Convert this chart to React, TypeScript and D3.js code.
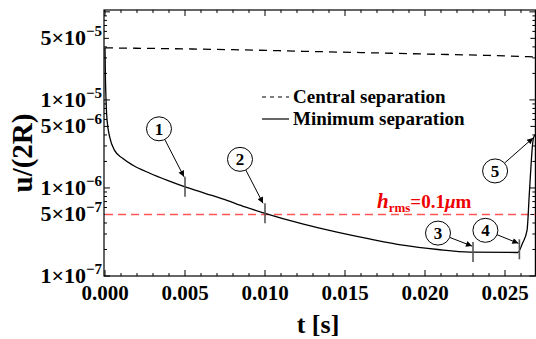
import React, { useEffect, useRef } from "react";
import * as d3 from "d3";

// central separation (dashed)
const centralT = [0, 0.004, 0.008, 0.012, 0.016, 0.02, 0.024, 0.0269];
const centralU = [3.9e-5, 3.82e-5, 3.72e-5, 3.58e-5, 3.45e-5, 3.32e-5, 3.2e-5, 3.08e-5];

// minimum separation (solid)
const minT = [
  0, 0.00003, 0.00006, 0.00013, 0.0003, 0.0006, 0.0011, 0.00175, 0.0028, 0.0039,
  0.005, 0.00625, 0.0075, 0.00875, 0.01, 0.0124, 0.0145, 0.0166, 0.0186, 0.0208,
  0.0228, 0.0258, 0.0261, 0.02638, 0.02644, 0.0265, 0.0266, 0.0267, 0.02678, 0.02688,
];
const minU = [
  3.9e-5, 1.66e-5, 1.06e-5, 5.85e-6, 3.75e-6, 2.67e-6, 2.17e-6, 1.81e-6, 1.47e-6, 1.22e-6,
  1.03e-6, 8.7e-7, 7.35e-7, 6.1e-7, 5.15e-7, 3.88e-7, 3.15e-7, 2.62e-7, 2.24e-7, 2.0e-7,
  1.87e-7, 1.85e-7, 2.37e-7, 3.32e-7, 4.6e-7, 7.5e-7, 1.5e-6, 2.8e-6, 3.7e-6, 4.0e-6,
];

const xTicks = [0, 0.005, 0.01, 0.015, 0.02, 0.025];
const yLabelTicks = [1e-7, 5e-7, 1e-6, 5e-6, 1e-5, 5e-5];
const legendLabels = ["Central separation", "Minimum separation"];
const hrms = 5e-7;

// numbered markers: time of the point, whether a tick is drawn
const markerLabels = ["1", "2", "3", "4", "5"];
const markerT = [0.005, 0.01, 0.023, 0.0259, 0.02688];
const markerTick = [true, true, true, true, false];
// circle offset and arrow tip offset (px) from the marked point
const markerCircle = [[-26, -58], [-25, -54], [-35, -19], [-34, -19], [-40, 36]];
const markerTip = [[-1, -10], [-2, -10], [-1, -6], [-1, -6], [-2, 3]];

const W = 536;
const H = 339;
const left = 105, right = 535.4, top = 10, bottom = 276;
const serif = "Liberation Serif, DejaVu Serif, serif";

export default function App() {
  const ref = useRef<SVGSVGElement>(null);

  useEffect(() => {
    const svg = d3.select(ref.current);
    svg.selectAll("*").remove();

    const x = d3.scaleLinear().domain([0, 0.0269]).range([left, right]);
    const y = d3.scaleLog().domain([1e-7, 1.05e-4]).range([bottom, top]);

    const defs = svg.append("defs");
    defs.append("clipPath").attr("id", "plot")
      .append("rect").attr("x", left - 1).attr("y", top).attr("width", right - left + 1).attr("height", bottom - top);
    defs.append("marker").attr("id", "arr").attr("viewBox", "0 0 10 10")
      .attr("refX", 10).attr("refY", 5).attr("markerWidth", 8).attr("markerHeight", 6)
      .attr("markerUnits", "userSpaceOnUse").attr("orient", "auto")
      .append("path").attr("d", "M0,0 L10,5 L0,10 Z").attr("fill", "#000");

    // frame
    svg.append("rect").attr("x", left - 1).attr("y", top).attr("width", right - left + 1).attr("height", bottom - top)
      .attr("fill", "none").attr("stroke", "#000").attr("stroke-width", 1.2);

    const tk = svg.append("g").attr("stroke", "#000").attr("stroke-width", 1);
    // x ticks (bottom + top)
    d3.range(0, 27).map((i) => i * 0.001).forEach((t) => {
      const major = Math.abs(t / 0.005 - Math.round(t / 0.005)) < 1e-6;
      const len = major ? 6 : 3;
      tk.append("line").attr("x1", x(t)).attr("x2", x(t)).attr("y1", bottom).attr("y2", bottom - len);
      tk.append("line").attr("x1", x(t)).attr("x2", x(t)).attr("y1", top).attr("y2", top + len);
    });
    // y ticks (left + right)
    const yt: number[] = [];
    [1e-7, 1e-6, 1e-5].forEach((d) => d3.range(1, 10).forEach((m) => yt.push(d * m)));
    yt.push(1e-4);
    yt.forEach((v) => {
      const m = Math.round(v / Math.pow(10, Math.floor(Math.log10(v) + 1e-9)));
      const len = m === 1 ? 6 : m === 5 ? 5 : 3;
      tk.append("line").attr("x1", left - 1).attr("x2", left - 1 + len).attr("y1", y(v)).attr("y2", y(v));
      tk.append("line").attr("x1", right).attr("x2", right - len).attr("y1", y(v)).attr("y2", y(v));
    });

    // x labels
    svg.append("g").selectAll("text").data(xTicks).enter().append("text")
      .attr("x", (d) => x(d)).attr("y", 300).attr("text-anchor", "middle")
      .style("font-family", serif).attr("font-weight", "bold").attr("font-size", 21)
      .text((d) => d.toFixed(3));

    // y labels
    const yl = svg.append("g").selectAll("text").data(yLabelTicks).enter().append("text")
      .attr("x", 102).attr("y", (d) => y(d) + 7).attr("text-anchor", "end")
      .style("font-family", serif).attr("font-weight", "bold").attr("font-size", 22);
    yl.each(function (d) {
      const e = Math.floor(Math.log10(d) + 1e-9);
      const m = Math.round(d / Math.pow(10, e));
      const s = d3.select(this);
      s.append("tspan").text(`${m}\u00d710`);
      s.append("tspan").attr("dy", -9).attr("font-size", 15).text(`\u2212${-e}`);
    });

    // axis titles
    svg.append("text").attr("transform", "translate(32,153) rotate(-90)").attr("text-anchor", "middle")
      .style("font-family", serif).attr("font-weight", "bold").attr("font-size", 29).text("u/(2R)");
    svg.append("text").attr("x", 318).attr("y", 333).attr("text-anchor", "middle")
      .style("font-family", serif).attr("font-weight", "bold").attr("font-size", 26).text("t [s]");

    const plot = svg.append("g").attr("clip-path", "url(#plot)");

    // h_rms line
    plot.append("line").attr("x1", left).attr("x2", right).attr("y1", y(hrms)).attr("y2", y(hrms))
      .attr("stroke", "#f55").attr("stroke-width", 1.6).attr("stroke-dasharray", "8,5");

    const line = d3.line<number>().curve(d3.curveMonotoneX);
    const cen = centralT.map((t, i) => [x(t), y(centralU[i])] as [number, number]);
    const mn = minT.map((t, i) => [x(t), y(minU[i])] as [number, number]);
    plot.append("path").attr("d", line(cen as any)).attr("fill", "none").attr("stroke", "#000")
      .attr("stroke-width", 1.3).attr("stroke-dasharray", "8,6");
    plot.append("path").attr("d", line(mn as any)).attr("fill", "none").attr("stroke", "#000")
      .attr("stroke-width", 1.3);

    // h_rms label
    const hl = svg.append("text").attr("x", 377).attr("y", 208).attr("fill", "#e00")
      .style("font-family", serif).attr("font-weight", "bold").attr("font-size", 19);
    hl.append("tspan").attr("font-style", "italic").attr("font-size", 21).text("h");
    hl.append("tspan").attr("font-size", 13).attr("dy", 4).text("rms");
    hl.append("tspan").attr("dy", -4).text("=0.1");
    hl.append("tspan").attr("font-style", "italic").text("\u03bc");
    hl.append("tspan").text("m");

    // legend
    const lg = svg.append("g");
    legendLabels.forEach((lab, i) => {
      const ly = 97 + i * 22;
      lg.append("line").attr("x1", 262).attr("x2", 289).attr("y1", ly).attr("y2", ly)
        .attr("stroke", "#000").attr("stroke-width", 1.2).attr("stroke-dasharray", i === 0 ? "4,4" : null);
      lg.append("text").attr("x", 293).attr("y", ly + 6).style("font-family", serif)
        .attr("font-weight", "bold").attr("font-size", 19).text(lab);
    });

    // markers
    const interp = (t: number) => {
      const i = Math.min(minT.length - 1, Math.max(1, d3.bisectLeft(minT, t)));
      const a = (t - minT[i - 1]) / (minT[i] - minT[i - 1]);
      return Math.pow(10, Math.log10(minU[i - 1]) * (1 - a) + Math.log10(minU[i]) * a);
    };
    const mk = svg.append("g");
    markerLabels.forEach((lab, i) => {
      const px = x(markerT[i]);
      const py = y(interp(markerT[i]));
      if (markerTick[i]) {
        mk.append("line").attr("x1", px).attr("x2", px).attr("y1", py - 10).attr("y2", py + 10)
          .attr("stroke", "#555").attr("stroke-width", 1.6);
      }
      const cx = px + markerCircle[i][0], cy = py + markerCircle[i][1];
      const tx = px + markerTip[i][0], ty = py + markerTip[i][1];
      const ang = Math.atan2(ty - cy, tx - cx);
      mk.append("line").attr("x1", cx + 12.5 * Math.cos(ang)).attr("y1", cy + 12 * Math.sin(ang))
        .attr("x2", tx).attr("y2", ty).attr("stroke", "#000").attr("stroke-width", 1)
        .attr("marker-end", "url(#arr)");
      mk.append("ellipse").attr("cx", cx).attr("cy", cy).attr("rx", 12.5).attr("ry", 12)
        .attr("fill", "#fff").attr("stroke", "#000").attr("stroke-width", 1);
      mk.append("text").attr("x", cx).attr("y", cy + 6).attr("text-anchor", "middle")
        .style("font-family", serif).attr("font-weight", "bold").attr("font-size", 17).text(lab);
    });
  }, []);

  return (
    <svg ref={ref} width={W} height={H} style={{ position: "absolute", left: 0, top: 0, background: "#fff" }} />
  );
}
